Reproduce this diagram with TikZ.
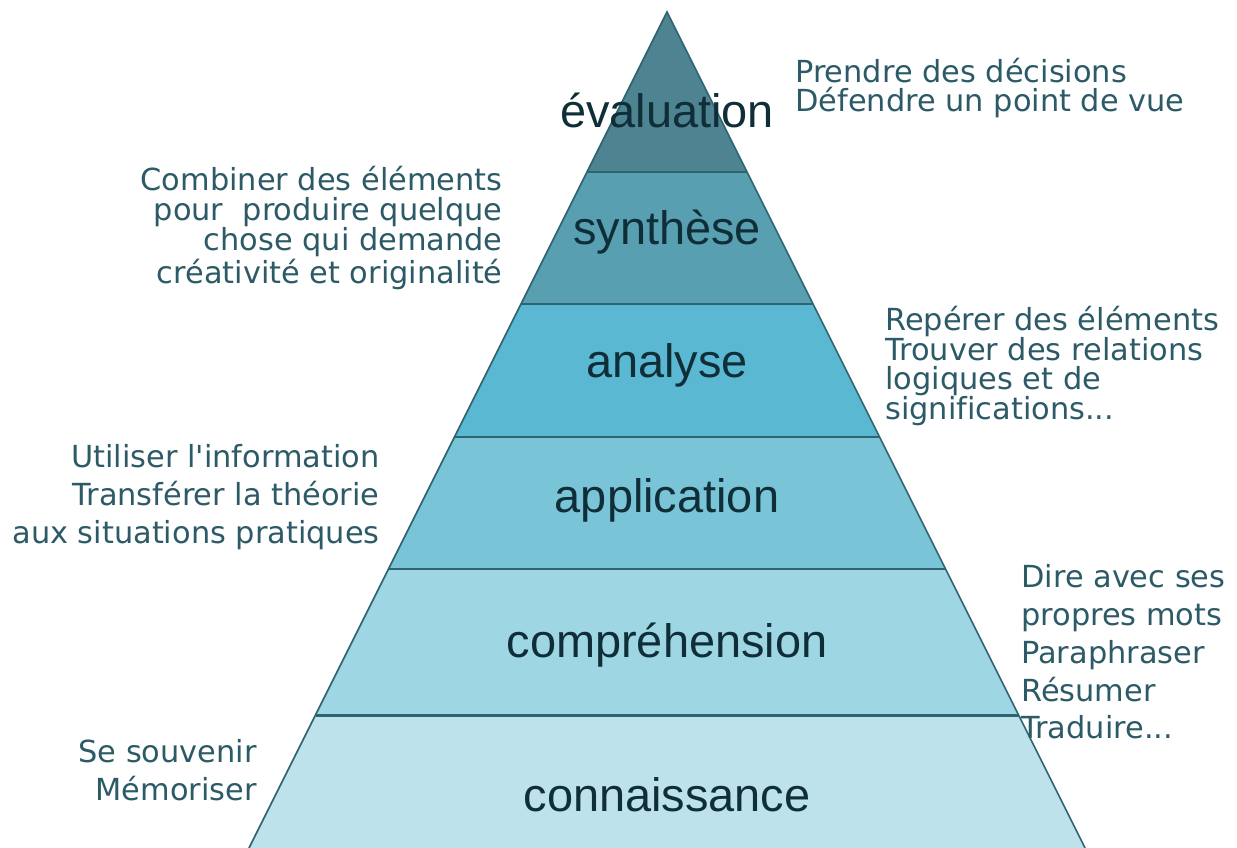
\documentclass[tikz,border=0pt]{standalone}
\usepackage{fontspec}
\setmainfont{DejaVu Sans}[Ligatures=NoCommon]
\newfontfamily\labelfont{Liberation Sans}
\usetikzlibrary{calc}

\definecolor{evalc}{HTML}{4E8391}
\definecolor{synthc}{HTML}{579FB1}
\definecolor{analc}{HTML}{5BB8D3}
\definecolor{applc}{HTML}{79C4D7}
\definecolor{comprc}{HTML}{9FD6E3}
\definecolor{connc}{HTML}{BDE2EB}
\definecolor{edgec}{HTML}{2E6370}
\definecolor{labelc}{HTML}{0F2E38}
\definecolor{notec}{HTML}{2C5A66}

\tikzset{
	layer/.style={font=\labelfont\fontsize{26.7}{30}\selectfont, text=labelc, inner sep=0pt},
	note/.style={font=\fontsize{17.3}{17}\selectfont, text=notec, inner sep=0pt},
	widenote/.style={note, font=\fontsize{17.3}{21.5}\selectfont}
}

\begin{document}
\begin{tikzpicture}[x=0.02cm, y=-0.02cm]
	\useasboundingbox (0,0) rectangle (1237,848);
	
	% Layers of the pyramid, half width = (y-12)/2
	\foreach \top/\bot/\col in {12/172/evalc, 172/304/synthc, 304/437/analc,
		437/569/applc, 569/715/comprc, 715/848/connc} {
		\fill[\col] ({667-(\top-12)/2},\top) -- ({667+(\top-12)/2},\top)
			-- ({667+(\bot-12)/2},\bot) -- ({667-(\bot-12)/2},\bot) -- cycle;
	}
	
	% Outline and separators
	\draw[edgec, line width=0.9pt] (249,848) -- (667,12) -- (1085,848);
	\foreach \y in {172,304,437,569,715} {
		\draw[edgec, line width=1.7pt] ({667-(\y-12)/2},\y) -- ({667+(\y-12)/2},\y);
	}
	
	% Level names
	\node[layer] (eval) at (667,110) {évaluation};
	\node[layer] (synth) at (667,232) {synthèse};
	\node[layer] (anal) at (667,365) {analyse};
	\node[layer] (appl) at (667,500) {application};
	\node[layer] (compr) at (667,645) {compréhension};
	\node[layer] (conn) at (667,795) {connaissance};
	
	% Notes beside the levels
	\node[note, anchor=west, align=left] (decide) at (795,88)
		{Prendre des décisions\\Défendre un point de vue};
	\node[note, anchor=east, align=right] (combine) at (503,228)
		{Combiner des éléments\\pour\ \ produire quelque\\chose qui demande\\créativité et originalité};
	\node[note, anchor=west, align=left] (locate) at (885,366)
		{Repérer des éléments\\Trouver des relations\\logiques et de\\significations...};
	\node[widenote, anchor=east, align=right] (use) at (380,497)
		{Utiliser l\textquotesingle information\\Transférer la théorie\\aux situations pratiques};
	\node[widenote, anchor=west, align=left] (rephrase) at (1021,652)
		{Dire avec ses\\propres mots\\Paraphraser\\Résumer\\Traduire...};
	\node[widenote, anchor=east, align=right] (remember) at (257,770)
		{Se souvenir\\Mémoriser};
\end{tikzpicture}
\end{document}
